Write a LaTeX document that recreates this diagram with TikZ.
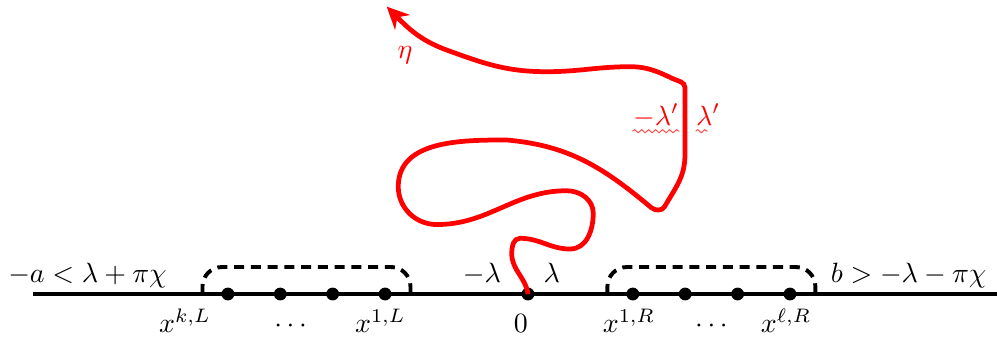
\documentclass[tikz,border=0pt]{standalone}
\usepackage{amsmath}
\usetikzlibrary{arrows.meta,decorations.pathmorphing}

\begin{document}
\begin{tikzpicture}[
    >={Stealth[length=8pt,width=7.5pt]},
    dot/.style={circle, fill=black, inner sep=0pt, minimum size=4.6pt},
    axisline/.style={line width=1.7pt},
    cluster/.style={line width=1.4pt, dash pattern=on 3.6pt off 2.4pt, rounded corners=7pt},
    curve/.style={->, red, line width=1.7pt},
    wave/.style={red!70, line width=0.35pt,
        decorate, decoration={snake, segment length=2.5pt, amplitude=0.55pt}},
    lbl/.style={anchor=base},
    redlbl/.style={anchor=base, text=red, inner sep=0pt}
]
\useasboundingbox (-6.65,-0.63) rectangle (5.907,3.703);

% ==================== real line with the marked points ====================
\coordinate (axl) at (-6.234,0);
\coordinate (axr) at (5.907,0);
\draw[axisline] (axl) -- (axr);

\foreach \n/\x in {xkL/-3.78, l2/-3.12, l3/-2.46, x1L/-1.80, zero/0,
                   x1R/1.32, r2/1.98, r3/2.64, xlR/3.30} {
  \node[dot] (\n) at (\x,0) {};
}

% dashed groups of points on each side
\draw[cluster] ([xshift=-0.32cm]xkL.center) -- ++(0,0.34) -| ([xshift=0.32cm]x1L.center);
\draw[cluster] ([xshift=-0.32cm]x1R.center) -- ++(0,0.34) -| ([xshift=0.32cm]xlR.center);

% labels above the line
\node[anchor=base west] (lefteq)  at (-6.67,0.15) {$-a<\lambda+\pi\chi$};
\node[anchor=base west] (righteq) at (3.69,0.15)  {$b>-\lambda-\pi\chi$};
\node[lbl] (mlam) at (-0.58,0.15) {$-\lambda$};
\node[lbl] (plam) at (0.30,0.15)  {$\lambda$};

% labels below the line
\node[lbl] (txkL)  at (-4.32,-0.49) {$x^{k,L}$};
\node[lbl] (tldL)  at (-2.96,-0.49) {$\cdots$};
\node[lbl] (tx1L)  at (-1.86,-0.49) {$x^{1,L}$};
\node[lbl] (tzero) at (-0.09,-0.49) {$0$};
\node[lbl] (tx1R)  at (1.27,-0.49)  {$x^{1,R}$};
\node[lbl] (tldR)  at (2.34,-0.49)  {$\cdots$};
\node[lbl] (txlR)  at (3.25,-0.49)  {$x^{\ell,R}$};

% ==================== the curve eta ====================
\draw[curve] (zero.center)
  to[out=98,in=-90]  (-0.205,0.513)
  to[out=90,in=180]  (-0.101,0.702)
  to[out=0,in=180]   (0.53,0.567)
  to[out=0,in=-90]   (0.822,1.016)
  to[out=90,in=0]    (0.487,1.301)
  to[out=180,in=0]   (-1.15,0.875)
  to[out=180,in=-90] (-1.634,1.351)
  to[out=90,in=180]  (-0.268,1.940)
  to[out=-5,in=140]  (1.55,1.09)
  to[out=-40,in=-120] (1.72,1.10)
  to[out=60,in=-90]  (1.977,1.75)
  -- (1.977,2.60) to[out=90,in=-25] (1.83,2.71)
  to[out=155,in=0]   (1.285,2.863)
  to[out=180,in=0]   (0.236,2.80)
  to[out=180,in=-20] (-1.024,3.073)
  to[out=160,in=-45] (-1.78,3.62);

\node[redlbl] (eta)   at (-1.549,2.972) {$\eta$};
\node[redlbl] (mlamp) at (1.612,2.128)  {$-\lambda'$};
\node[redlbl] (lamp)  at (2.27,2.128)   {$\lambda'$};
\draw[wave] ([yshift=-2.2pt]mlamp.base west) -- ([yshift=-2.2pt]mlamp.base east);
\draw[wave] ([yshift=-2.2pt]lamp.base west) -- ++(0.15,0);

\end{tikzpicture}
\end{document}
